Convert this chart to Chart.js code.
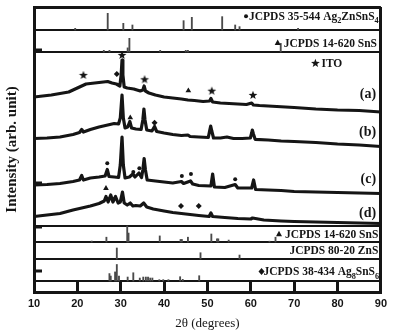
<!DOCTYPE html>
<html>
<head>
<meta charset="utf-8">
<script src="https://cdn.jsdelivr.net/npm/chart.js@4.4.0/dist/chart.umd.min.js"></script>
<style>
  html, body { margin: 0; padding: 0; background: #fff; }
  #wrap { width: 403px; height: 333px; }
</style>
</head>
<body>
<div id="wrap"><canvas id="xrd"></canvas></div>
<script>
//
// XRD patterns, [2theta, intensity] (arb. unit, already offset as in the figure)
var curveA = [[10,195],[12,196],[14,197],[16,198.5],[18,200],[20,204],[21,206],[22,208],[24,209],[26,210],[27,210.5],[28,209],[29,208],[29.8,206],[30.1,217],[30.3,232],[30.5,217],[30.8,205],[31.5,204],[33,203],[34.5,201],[35.1,202],[35.4,206],[35.7,201],[36.5,199],[38,197],[40,195],[42,194],[44,193],[45.5,192],[47,191.5],[49,190.5],[50.5,191],[50.8,193.5],[51.2,190],[53,189],[55,188.5],[57,188],[59,187.5],[60.2,189],[60.6,187],[62,186.5],[64,186],[66,185.5],[68,185],[70,184.5],[75,183],[80,182],[85,181.5],[90,180]];
var curveB = [[10,153.5],[13,154],[16,155],[19,157.5],[20.5,159.5],[21,162.5],[21.4,160],[23,162.5],[25,165],[27,167],[28.5,168.5],[29.5,168],[29.9,174],[30.3,197],[30.6,174],[31,164],[31.6,165],[32.1,170.5],[32.5,164],[33.5,163],[34.7,162.5],[35.1,172],[35.35,183],[35.6,172],[36,162],[37.2,161],[37.8,165.5],[38.3,160.5],[40,159],[42,157.5],[44,156.5],[45.5,157],[46,155.5],[48,155],[50.2,154.5],[50.5,161],[50.75,166],[51,161],[51.4,154],[53,154],[54.5,155],[56,153.5],[58,153.5],[59.9,154],[60.2,159],[60.35,162],[60.6,158],[61,152.7],[64,152],[67,151],[70,150.5],[75,149.5],[80,148],[85,147],[90,145.5]];
var curveC = [[10,107],[13,107.5],[16,108.5],[19,110.5],[20.5,112],[21,116.5],[21.4,112],[23,114],[25,115],[26.4,116],[26.9,122.5],[27.3,115.5],[28.5,115],[29.5,114.5],[29.9,127],[30.3,155],[30.6,127],[31,114],[32,115],[32.8,118],[33.3,115],[34.2,119],[34.8,114.5],[35.1,122],[35.4,133.5],[35.7,122],[36.1,112],[38,111],[40,110],[42,109],[44,110.5],[44.5,108.5],[46.1,111],[46.6,108],[48,106.5],[50.8,106],[51.2,118],[51.6,105],[54,104.5],[56.4,107.5],[57,104],[60.2,104],[60.65,112],[61.1,102.5],[64,102],[67,101.5],[70,100.5],[75,100],[80,99.5],[85,99],[90,98.5]];
var curveD = [[10,75.5],[13,77],[16,78.5],[19,82],[21,84],[23,86],[25,88.5],[26.2,91],[26.6,95.5],[27.1,90],[27.7,97],[28.2,90],[28.8,95.5],[29.4,89],[29.9,90],[30.4,100],[30.8,89],[31.5,87],[32.2,89],[32.8,86],[33.5,86.5],[34.5,86],[35.3,89],[36,85],[37.5,83],[40,81],[42,79.5],[44,78.5],[46,77.5],[48,76.5],[50.4,75.5],[50.8,79],[51.2,75.5],[54,74.5],[57,73.5],[60,73],[60.4,74],[63,72],[67,71],[70,70.5],[75,70],[80,69.5],[85,69],[90,68.5]];

//
// Reference patterns, [2theta, relative intensity %]
var refAg2ZnSnS4 = [[19.5,10],[27.0,100],[30.6,40],[32.7,30],[44.5,56],[46.4,76],[53.4,80],[56.4,30],[57.4,20],[70.9,10]];
var refSnSTop = [[26.1,12],[27.4,12],[31.6,30],[32.0,100],[39.1,12],[45.0,12],[45.5,12],[66.9,63]];
var refSnS = [[23.3,6],[26.7,30],[31.5,100],[31.8,56],[39.0,38],[43.8,16],[44.1,16],[45.5,30],[50.9,50],[52.2,20],[52.5,20],[54.9,12],[64.3,5],[65.7,30]];
var refZnS = [[29.1,100],[48.4,57],[57.4,36]];
var refAg8SnS6 = [[27.4,45],[27.7,30],[28.7,55],[29.1,100],[29.6,30],[31.6,24],[32.9,50],[34.4,18],[35.2,24],[35.8,24],[36.3,24],[36.8,18],[37.3,18],[38.9,8],[39.8,8],[41.0,8],[43.7,26],[44.3,10],[48.1,32]];

//
// Phase markers over the peaks, [2theta, height]
var itoPeaks = [[21.4,217],[30.3,237],[35.5,212.7],[51.0,201.3],[60.5,197]];
var diamondPeaks = [[29.1,218],[37.8,169.3],[43.9,86],[48.0,86]];
var trianglePeaks = [[45.6,201.3],[32.2,174.3],[26.6,103.7]];
var dotPeaks = [[26.9,128.7],[32.9,120],[34.3,123.7],[44.1,116],[46.2,118],[56.4,112.7]];

var sampleNames = ['(a)', '(b)', '(c)', '(d)'];

//
// Layout of the stacked panels on the y axis
var panelBase = { ag2: 262, snsTop: 240, sns: 50, zns: 33, ag8: 11 };
var panelScale = { ag2: 0.167, snsTop: 0.137, sns: 0.16, zns: 0.11, ag8: 0.165 };
var separators = [11, 33, 50, 66, 240, 262, 285];
var sideTicks = [21, 65, 109, 242];

var ink = '#151515';
var serif = '"Liberation Serif", "Times New Roman", serif';

//
// Small filled star, used as point style
function starPath(ctx, cx, cy, ro, ri) {
    ctx.beginPath();
    for (var i = 0; i < 10; i++) {
        var r = i % 2 ? ri : ro;
        var a = -Math.PI / 2 + i * Math.PI / 5;
        ctx.lineTo(cx + Math.cos(a) * r, cy + Math.sin(a) * r);
    }
    ctx.closePath();
}
var starImg = document.createElement('canvas');
starImg.width = 10; starImg.height = 10;
(function() {
    var c = starImg.getContext('2d');
    c.fillStyle = ink;
    starPath(c, 5, 5.4, 4.6, 1.9);
    c.fill();
})();

function xy(arr) {
    return arr.map(function(p) { return { x: p[0], y: p[1] }; });
}
function sticks(arr, key) {
    return arr.map(function(p) {
        return { x: p[0], y: [panelBase[key], panelBase[key] + p[1] * panelScale[key]] };
    });
}
function stickSet(arr, key) {
    return { type: 'bar', data: sticks(arr, key), backgroundColor: '#4a4a4a', borderWidth: 0,
             barThickness: 1.2, grouped: false, order: 5 };
}
function curveSet(arr) {
    return { type: 'line', data: xy(arr), borderColor: ink, borderWidth: 3.2, pointRadius: 0,
             tension: 0, fill: false, borderJoinStyle: 'round', order: 2 };
}
function markerSet(arr, style, r) {
    return { type: 'scatter', data: xy(arr), pointStyle: style, pointRadius: r,
             pointBackgroundColor: ink, pointBorderColor: ink, pointBorderWidth: 0, order: 1 };
}

//
// Text labels (right-aligned at x, baseline at y, in axis values)
var labels = [
    { parts: [['JCPDS 35-544 Ag'], ['2', 1], ['ZnSnS'], ['4', 1]], x: 89.5, y: 272, size: 11.5, symbol: 'dot', gap: 3 },
    { parts: [['JCPDS 14-620 SnS']], x: 89.1, y: 245.3, size: 11.5, symbol: 'triangle', gap: 6 },
    { parts: [['ITO']], x: 81.1, y: 225.3, size: 11.5, symbol: 'star', gap: 6 },
    { parts: [[sampleNames[0]]], x: 88.9, y: 194.5, size: 14 },
    { parts: [[sampleNames[1]]], x: 88.9, y: 156, size: 14 },
    { parts: [[sampleNames[2]]], x: 88.9, y: 109.5, size: 14 },
    { parts: [[sampleNames[3]]], x: 88.9, y: 75, size: 14 },
    { parts: [['JCPDS 14-620 SnS']], x: 89.4, y: 54, size: 11.5, symbol: 'triangle', gap: 6 },
    { parts: [['JCPDS 80-20 ZnS']], x: 89.4, y: 38.3, size: 11.5 },
    { parts: [['JCPDS 38-434 Ag'], ['8', 1], ['SnS'], ['6', 1]], x: 89.6, y: 16.7, size: 11.5, symbol: 'diamond', gap: 2 }
];

function drawSymbol(ctx, kind, cx, cy) {
    ctx.beginPath();
    if (kind === 'dot') {
        ctx.arc(cx, cy, 2, 0, Math.PI * 2);
        ctx.fill();
    } else if (kind === 'triangle') {
        ctx.moveTo(cx, cy - 3.5); ctx.lineTo(cx + 3, cy + 2); ctx.lineTo(cx - 3, cy + 2);
        ctx.closePath(); ctx.fill();
    } else if (kind === 'diamond') {
        ctx.moveTo(cx, cy - 3.5); ctx.lineTo(cx + 3, cy); ctx.lineTo(cx, cy + 3.5); ctx.lineTo(cx - 3, cy);
        ctx.closePath(); ctx.fill();
    } else if (kind === 'star') {
        starPath(ctx, cx, cy + 0.4, 4.6, 1.9);
        ctx.fill();
    }
}

var labelPlugin = {
    id: 'panelLabels',
    afterDatasetsDraw: function(chart) {
        var ctx = chart.ctx, sx = chart.scales.x, sy = chart.scales.y;
        ctx.save();
        ctx.fillStyle = ink;
        ctx.strokeStyle = ink;
        ctx.textBaseline = 'alphabetic';
        ctx.textAlign = 'left';
        labels.forEach(function(lb) {
            var right = sx.getPixelForValue(lb.x);
            var base = sy.getPixelForValue(lb.y);
            var w = 0;
            lb.parts.forEach(function(p) {
                ctx.font = 'bold ' + (p[1] ? lb.size * 0.72 : lb.size) + 'px ' + serif;
                w += ctx.measureText(p[0]).width;
            });
            var cx = right - w;
            lb.parts.forEach(function(p) {
                ctx.font = 'bold ' + (p[1] ? lb.size * 0.72 : lb.size) + 'px ' + serif;
                ctx.fillText(p[0], cx, base + (p[1] ? lb.size * 0.28 : 0));
                cx += ctx.measureText(p[0]).width;
            });
            if (lb.symbol) {
                drawSymbol(ctx, lb.symbol, right - w - lb.gap, base - lb.size * 0.33);
            }
        });
        ctx.restore();
    }
};

new Chart(document.getElementById('xrd'), {
    type: 'line',
    data: {
        datasets: [
            stickSet(refAg2ZnSnS4, 'ag2'),
            stickSet(refSnSTop, 'snsTop'),
            stickSet(refSnS, 'sns'),
            stickSet(refZnS, 'zns'),
            stickSet(refAg8SnS6, 'ag8'),
            curveSet(curveA),
            curveSet(curveB),
            curveSet(curveC),
            curveSet(curveD),
            markerSet(itoPeaks, starImg, 5),
            markerSet(diamondPeaks, 'rectRot', 3),
            markerSet(trianglePeaks, 'triangle', 3.3),
            markerSet(dotPeaks, 'circle', 2)
        ]
    },
    options: {
        responsive: true,
        maintainAspectRatio: false,
        animation: false,
        layout: { padding: { top: 7, right: 11, left: 0, bottom: 0 } },
        plugins: { legend: { display: false }, tooltip: { enabled: false } },
        scales: {
            x: {
                type: 'linear', min: 10, max: 90, offset: false,
                afterFit: function(s) { s.height = 41; },
                ticks: { stepSize: 10, maxRotation: 0, padding: 16, color: ink,
                         font: { family: '"Liberation Sans", Arial, sans-serif', weight: 'bold', size: 11 } },
                grid: {
                    offset: false, drawOnChartArea: true, drawTicks: true, tickLength: -11,
                    color: function(c) { return c.tick && c.tick.value === 90 ? ink : 'rgba(0,0,0,0)'; },
                    lineWidth: 3,
                    tickColor: function(c) { return c.tick && c.tick.value > 10 && c.tick.value < 90 ? ink : 'rgba(0,0,0,0)'; },
                    tickWidth: 3
                },
                border: { display: true, color: ink, width: 3 },
                title: { display: true, text: '2θ (degrees)', color: ink, padding: { top: 0, bottom: 2 },
                         font: { family: serif, size: 13 } }
            },
            y: {
                type: 'linear', min: 0, max: 285,
                afterFit: function(s) { s.width = 34; },
                afterBuildTicks: function(s) {
                    s.ticks = separators.concat(sideTicks).map(function(v) { return { value: v }; });
                },
                ticks: { display: false },
                grid: {
                    drawOnChartArea: true, drawTicks: true, tickLength: -8,
                    color: function(c) { return c.tick && separators.indexOf(c.tick.value) >= 0 ? ink : 'rgba(0,0,0,0)'; },
                    lineWidth: function(c) { return c.tick && c.tick.value === 285 ? 3 : 2; },
                    tickColor: function(c) { return c.tick && sideTicks.indexOf(c.tick.value) >= 0 ? ink : 'rgba(0,0,0,0)'; },
                    tickWidth: 3
                },
                border: { display: true, color: ink, width: 3 },
                title: { display: true, text: 'Intensity (arb. unit)', color: ink, padding: { top: 3, bottom: 0 },
                         font: { family: serif, size: 15, weight: 'bold' } }
            }
        }
    },
    plugins: [labelPlugin]
});
</script>
</body>
</html>
